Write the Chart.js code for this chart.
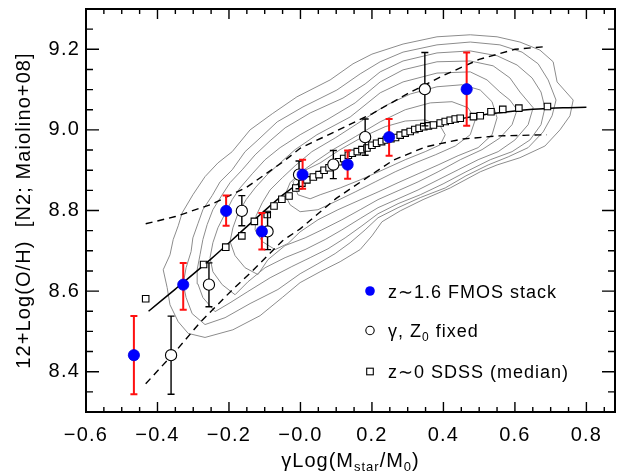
<!DOCTYPE html>
<html>
<head>
<meta charset="utf-8">
<script src="https://cdn.jsdelivr.net/npm/chart.js@4.4.1/dist/chart.umd.min.js"></script>
<style>
  html, body { margin: 0; padding: 0; background: #fff; }
  #wrap { width: 623px; height: 472px; }
</style>
</head>
<body>
<div id="wrap"><canvas id="c" width="623" height="472"></canvas></div>
<script>
// ---- axis ticks ----
const xTicks = [-0.6, -0.4, -0.2, 0.0, 0.2, 0.4, 0.6, 0.8];
const xTickLabels = ['\u22120.6', '\u22120.4', '\u22120.2', '\u22120.0', '0.2', '0.4', '0.6', '0.8'];
const yTicks = [8.4, 8.6, 8.8, 9.0, 9.2];
const yTickLabels = ['8.4', '8.6', '8.8', '9.0', '9.2'];

// ---- z~1.6 FMOS stacks ----
const fmosX = [-0.466, -0.328, -0.208, -0.108, 0.006, 0.132, 0.248, 0.465];
const fmosY = [8.441, 8.616, 8.799, 8.748, 8.889, 8.914, 8.982, 9.101];
const fmosErrLo = [0.097, 0.062, 0.037, 0.045, 0.035, 0.035, 0.046, 0.091];
const fmosErrHi = [0.097, 0.054, 0.038, 0.046, 0.037, 0.035, 0.045, 0.091];

// ---- same stacks with gamma, Z0 fixed ----
const fixedX = [-0.362, -0.256, -0.164, -0.092, -0.004, 0.092, 0.181, 0.348];
const fixedY = [8.441, 8.616, 8.799, 8.748, 8.889, 8.914, 8.982, 9.101];
const fixedErrLo = [0.097, 0.055, 0.037, 0.045, 0.035, 0.035, 0.045, 0.091];
const fixedErrHi = [0.097, 0.054, 0.038, 0.047, 0.034, 0.035, 0.045, 0.091];

// ---- z~0 SDSS median relation ----
const sdssX = [-0.433, -0.271, -0.209, -0.164, -0.129, -0.093, -0.074, -0.052, -0.032, -0.013,
  0.004, 0.018, 0.036, 0.052, 0.066, 0.080, 0.094, 0.107, 0.121, 0.134,
  0.145, 0.159, 0.172, 0.186, 0.200, 0.213, 0.227, 0.240, 0.253, 0.266,
  0.279, 0.293, 0.307, 0.320, 0.332, 0.345, 0.358, 0.372, 0.391, 0.405,
  0.419, 0.433, 0.447, 0.484, 0.503, 0.533, 0.566, 0.611, 0.691];
const sdssY = [8.581, 8.666, 8.709, 8.737, 8.773, 8.790, 8.811, 8.828, 8.836, 8.856,
  8.868, 8.876, 8.883, 8.889, 8.900, 8.906, 8.913, 8.921, 8.929, 8.937,
  8.942, 8.946, 8.951, 8.955, 8.962, 8.967, 8.971, 8.975, 8.978, 8.981,
  8.987, 8.992, 8.996, 9.001, 9.004, 9.008, 9.010, 9.012, 9.017, 9.021,
  9.024, 9.027, 9.029, 9.033, 9.035, 9.045, 9.051, 9.054, 9.058];

// ---- fitted relation (solid) ----
const fitX = [-0.425, -0.35, -0.25, -0.15, -0.05, 0.0, 0.05, 0.10, 0.15, 0.20, 0.25,
  0.30, 0.35, 0.40, 0.45, 0.50, 0.55, 0.60, 0.65, 0.70, 0.75, 0.80];
const fitY = [8.550, 8.605, 8.680, 8.760, 8.838, 8.870, 8.895, 8.918, 8.938, 8.958, 8.976,
  8.993, 9.006, 9.018, 9.028, 9.036, 9.042, 9.047, 9.051, 9.054, 9.055, 9.056];

// ---- SDSS scatter envelope (dashed) ----
const upperX = [-0.433, -0.35, -0.25, -0.15, -0.05, 0.0, 0.10, 0.20, 0.30, 0.40, 0.50, 0.60, 0.689];
const upperY = [8.767, 8.785, 8.815, 8.858, 8.920, 8.955, 8.997, 9.040, 9.090, 9.135, 9.175, 9.200, 9.207];
const lowerX = [-0.433, -0.35, -0.28, -0.19, -0.14, -0.05, 0.0, 0.06, 0.10, 0.18, 0.26, 0.35, 0.45, 0.55, 0.689];
const lowerY = [8.370, 8.450, 8.523, 8.604, 8.645, 8.725, 8.755, 8.800, 8.830, 8.878, 8.925, 8.958, 8.977, 8.985, 8.988];

// ---- SDSS density contours, outermost first ----
const contourLevel1 = [[-0.314,8.495],[-0.342,8.524],[-0.365,8.566],[-0.373,8.609],[-0.384,8.653],[-0.365,8.690],
  [-0.356,8.728],[-0.342,8.762],[-0.331,8.794],[-0.301,8.839],[-0.267,8.884],[-0.231,8.918],[-0.191,8.946],
  [-0.141,9.000],[-0.079,9.040],[-0.010,9.082],[0.083,9.124],[0.147,9.164],[0.200,9.188],[0.287,9.213],
  [0.382,9.231],[0.475,9.236],[0.550,9.231],[0.614,9.218],[0.670,9.198],[0.707,9.169],[0.718,9.119],
  [0.763,9.074],[0.754,9.035],[0.726,9.000],[0.684,8.960],[0.614,8.931],[0.550,8.913],[0.503,8.896],
  [0.419,8.856],[0.343,8.827],[0.279,8.799],[0.228,8.772],[0.200,8.737],[0.167,8.703],[0.111,8.673],
  [0.055,8.648],[-0.001,8.621],[-0.051,8.584],[-0.113,8.539],[-0.189,8.504],[-0.267,8.485]];
const contourLevel2 = [[-0.267,8.517],[-0.303,8.544],[-0.320,8.584],[-0.328,8.618],[-0.320,8.658],[-0.306,8.698],
  [-0.301,8.732],[-0.287,8.767],[-0.273,8.802],[-0.247,8.837],[-0.225,8.871],[-0.191,8.901],[-0.155,8.946],
  [-0.119,8.975],[-0.065,9.020],[0.007,9.057],[0.102,9.099],[0.167,9.139],[0.223,9.169],[0.287,9.193],
  [0.382,9.211],[0.475,9.218],[0.558,9.211],[0.620,9.193],[0.665,9.164],[0.693,9.124],[0.715,9.074],
  [0.704,9.035],[0.679,8.995],[0.637,8.956],[0.581,8.933],[0.525,8.913],[0.463,8.886],[0.405,8.856],
  [0.335,8.832],[0.273,8.807],[0.217,8.782],[0.181,8.752],[0.139,8.720],[0.097,8.693],[0.049,8.668],
  [-0.001,8.643],[-0.063,8.604],[-0.141,8.569],[-0.211,8.534]];
const contourLevel3 = [[-0.239,8.549],[-0.273,8.584],[-0.287,8.618],[-0.289,8.653],[-0.281,8.690],[-0.273,8.728],
  [-0.261,8.765],[-0.245,8.802],[-0.219,8.839],[-0.197,8.869],[-0.163,8.901],[-0.127,8.938],[-0.085,8.973],
  [-0.043,9.005],[0.027,9.042],[0.119,9.079],[0.181,9.114],[0.223,9.144],[0.287,9.171],[0.382,9.191],
  [0.475,9.196],[0.550,9.184],[0.606,9.161],[0.648,9.129],[0.673,9.094],[0.684,9.055],[0.673,9.013],
  [0.642,8.975],[0.592,8.946],[0.531,8.926],[0.463,8.896],[0.399,8.866],[0.335,8.839],[0.273,8.817],
  [0.217,8.792],[0.172,8.762],[0.125,8.732],[0.077,8.705],[0.027,8.683],[-0.024,8.661],[-0.085,8.633],
  [-0.147,8.599],[-0.197,8.571]];
const contourLevel4 = [[-0.183,8.591],[-0.219,8.616],[-0.245,8.648],[-0.253,8.683],[-0.245,8.720],[-0.231,8.757],
  [-0.211,8.792],[-0.191,8.827],[-0.169,8.856],[-0.135,8.891],[-0.099,8.926],[-0.057,8.956],[-0.001,8.988],
  [0.074,9.025],[0.153,9.067],[0.223,9.119],[0.287,9.149],[0.382,9.169],[0.475,9.171],[0.539,9.159],
  [0.586,9.129],[0.614,9.094],[0.651,9.055],[0.637,9.013],[0.600,8.975],[0.553,8.946],[0.497,8.926],
  [0.441,8.901],[0.385,8.876],[0.329,8.851],[0.273,8.829],[0.217,8.807],[0.167,8.780],[0.116,8.752],
  [0.069,8.728],[0.013,8.703],[-0.043,8.683],[-0.099,8.658],[-0.147,8.623]];
const contourLevel5 = [[-0.119,8.641],[-0.155,8.658],[-0.183,8.688],[-0.197,8.723],[-0.189,8.757],[-0.175,8.792],
  [-0.152,8.827],[-0.127,8.856],[-0.093,8.889],[-0.057,8.918],[-0.015,8.951],[0.046,8.988],[0.139,9.032],
  [0.223,9.092],[0.287,9.119],[0.382,9.141],[0.475,9.144],[0.522,9.124],[0.558,9.094],[0.586,9.074],
  [0.606,9.050],[0.592,9.013],[0.558,8.980],[0.508,8.951],[0.447,8.926],[0.385,8.896],[0.329,8.871],
  [0.273,8.849],[0.217,8.827],[0.167,8.802],[0.116,8.777],[0.060,8.752],[0.013,8.732],[-0.043,8.713],
  [-0.091,8.678]];
const contourLevel6 = [[-0.071,8.703],[-0.107,8.723],[-0.127,8.752],[-0.124,8.787],[-0.107,8.819],[-0.085,8.851],
  [-0.051,8.881],[-0.015,8.911],[0.032,8.946],[0.097,8.980],[0.167,9.020],[0.237,9.060],[0.307,9.089],
  [0.382,9.107],[0.452,9.112],[0.503,9.099],[0.536,9.070],[0.550,9.030],[0.536,8.988],[0.497,8.956],
  [0.441,8.936],[0.385,8.913],[0.329,8.891],[0.273,8.869],[0.217,8.846],[0.161,8.824],[0.105,8.802],
  [0.049,8.777],[-0.001,8.747],[-0.035,8.718]];
const contourLevel7 = [[-0.001,8.797],[-0.029,8.814],[-0.043,8.839],[-0.029,8.869],[-0.001,8.894],[0.041,8.921],
  [0.091,8.951],[0.153,8.983],[0.223,9.020],[0.293,9.050],[0.363,9.067],[0.424,9.070],[0.469,9.055],
  [0.489,9.025],[0.475,8.988],[0.433,8.960],[0.377,8.938],[0.321,8.918],[0.265,8.896],[0.209,8.871],
  [0.153,8.846],[0.097,8.822],[0.049,8.802]];
const contourLevel8 = [[-0.007,8.839],[-0.021,8.871],[0.004,8.896],[0.055,8.918],[0.111,8.951],[0.175,8.983],
  [0.237,9.008],[0.293,9.022],[0.349,9.025],[0.391,9.010],[0.405,8.988],[0.391,8.963],[0.349,8.946],
  [0.293,8.926],[0.231,8.901],[0.167,8.876],[0.111,8.856],[0.055,8.839],[0.027,8.829]];

const contours = [contourLevel1, contourLevel2, contourLevel3, contourLevel4,
                  contourLevel5, contourLevel6, contourLevel7, contourLevel8];

const FONT = '"Liberation Sans", Arial, Helvetica, sans-serif';
const toPts = (xs, ys) => xs.map((x, i) => ({ x: x, y: ys[i] }));
const closedLoop = arr => arr.concat([arr[0]]).map(p => ({ x: p[0], y: p[1] }));

const datasets = [];
contours.forEach((c, i) => datasets.push({
  label: 'contour ' + (i + 1), data: closedLoop(c), showLine: true,
  borderColor: '#8c8c8c', borderWidth: 1, pointRadius: 0, tension: 0, fill: false, order: 20
}));
datasets.push({ label: 'upper', data: toPts(upperX, upperY), showLine: true, borderColor: '#000',
  borderWidth: 1.4, borderDash: [7, 5], pointRadius: 0, tension: 0, order: 15 });
datasets.push({ label: 'lower', data: toPts(lowerX, lowerY), showLine: true, borderColor: '#000',
  borderWidth: 1.4, borderDash: [7, 5], pointRadius: 0, tension: 0, order: 15 });
datasets.push({ label: 'fit', data: toPts(fitX, fitY), showLine: true, borderColor: '#000',
  borderWidth: 1.5, pointRadius: 0, tension: 0.3, order: 14 });
datasets.push({ label: 'z~0 SDSS (median)', data: toPts(sdssX, sdssY), showLine: false,
  pointStyle: 'rect', pointRadius: 4.6, pointBackgroundColor: '#fff', pointBorderColor: '#000',
  pointBorderWidth: 1.1, order: 12 });
datasets.push({ label: 'gamma, Z0 fixed', data: toPts(fixedX, fixedY), showLine: false,
  pointStyle: 'circle', pointRadius: 5.6, pointBackgroundColor: '#fff', pointBorderColor: '#000',
  pointBorderWidth: 1.1, order: 11,
  errLo: fixedErrLo, errHi: fixedErrHi, errColor: '#000', errWidth: 1.4 });
datasets.push({ label: 'z~1.6 FMOS stack', data: toPts(fmosX, fmosY), showLine: false,
  pointStyle: 'circle', pointRadius: 5.6, pointBackgroundColor: '#0000ff', pointBorderColor: '#0000e0',
  pointBorderWidth: 0.8, order: 10,
  errLo: fmosErrLo, errHi: fmosErrHi, errColor: '#ff1010', errWidth: 2 });

// vertical error bars with caps, drawn just under their markers
const errorBars = {
  id: 'errorBars',
  beforeDatasetDraw(chart, args) {
    const ds = chart.data.datasets[args.index];
    if (!ds.errLo) return;
    const { ctx } = chart;
    const xs = chart.scales.x, ys = chart.scales.y;
    ctx.save();
    ctx.strokeStyle = ds.errColor;
    ctx.lineWidth = ds.errWidth;
    ds.data.forEach((p, i) => {
      const px = xs.getPixelForValue(p.x);
      const top = ys.getPixelForValue(p.y + ds.errHi[i]);
      const bot = ys.getPixelForValue(p.y - ds.errLo[i]);
      ctx.beginPath();
      ctx.moveTo(px, top); ctx.lineTo(px, bot);
      ctx.moveTo(px - 3.5, top); ctx.lineTo(px + 3.5, top);
      ctx.moveTo(px - 3.5, bot); ctx.lineTo(px + 3.5, bot);
      ctx.stroke();
    });
    ctx.restore();
  }
};

// text made of runs with different sizes / vertical offsets (subscripts)
function runsWidth(ctx, runs) {
  let w = 0;
  runs.forEach(r => { ctx.font = r[1] + 'px ' + FONT; r.w = ctx.measureText(r[0]).width; w += r.w; });
  return w;
}
function drawRuns(ctx, runs, x, baseline) {
  runsWidth(ctx, runs);
  runs.forEach(r => {
    ctx.font = r[1] + 'px ' + FONT;
    ctx.fillText(r[0], x, baseline + r[2]);
    x += r.w;
  });
}

// boxed frame with inward ticks on all four sides, axis titles and legend
const decorations = {
  id: 'decorations',
  beforeDraw(chart) {
    chart.ctx.letterSpacing = '1.2px';
  },
  afterDraw(chart) {
    const { ctx, chartArea: a } = chart;
    const xs = chart.scales.x, ys = chart.scales.y;
    ctx.save();
    ctx.strokeStyle = '#000';
    ctx.lineWidth = 1.4;
    ctx.beginPath();
    for (let k = -12; k <= 17; k++) {
      const px = xs.getPixelForValue(k * 0.05);
      if (px < a.left - 0.5 || px > a.right + 0.5) continue;
      const len = (k % 4 === 0) ? 10 : 5;
      ctx.moveTo(px, a.bottom); ctx.lineTo(px, a.bottom - len);
      ctx.moveTo(px, a.top); ctx.lineTo(px, a.top + len);
    }
    for (let k = 166; k <= 186; k++) {
      const py = ys.getPixelForValue(k * 0.05);
      if (py < a.top - 0.5 || py > a.bottom + 0.5) continue;
      const len = (k % 4 === 0) ? 13 : 7;
      ctx.moveTo(a.left, py); ctx.lineTo(a.left + len, py);
      ctx.moveTo(a.right, py); ctx.lineTo(a.right - len, py);
    }
    ctx.stroke();
    ctx.lineWidth = 2;
    ctx.strokeRect(a.left, a.top, a.right - a.left, a.bottom - a.top);

    ctx.fillStyle = '#000';
    ctx.textAlign = 'left';
    ctx.textBaseline = 'alphabetic';

    // x-axis title
    ctx.letterSpacing = '1px';
    const xTitle = [['\u03b3Log(M', 20, 0], ['star', 13, 4], ['/M', 20, 0], ['0', 13, 4], [')', 20, 0]];
    const xw = runsWidth(ctx, xTitle);
    drawRuns(ctx, xTitle, (a.left + a.right) / 2 - xw / 2, 467);

    // y-axis title
    ctx.save();
    ctx.translate(24, (a.top + a.bottom) / 2);
    ctx.rotate(-Math.PI / 2);
    ctx.font = '20px ' + FONT;
    ctx.letterSpacing = '1.1px';
    ctx.textAlign = 'center';
    ctx.textBaseline = 'middle';
    ctx.fillText('12+Log(O/H)  [N2; Maiolino+08]', 0, 0);
    ctx.restore();

    // legend
    ctx.letterSpacing = '1px';
    const lx = 370, tx = 388;
    ctx.beginPath(); ctx.arc(lx, 291, 4.8, 0, Math.PI * 2);
    ctx.fillStyle = '#0000ff'; ctx.fill();
    ctx.fillStyle = '#000';
    drawRuns(ctx, [['z\u223c1.6 FMOS stack', 18, 0]], tx, 297.5);

    ctx.beginPath(); ctx.arc(lx, 330.5, 4.2, 0, Math.PI * 2);
    ctx.fillStyle = '#fff'; ctx.fill();
    ctx.lineWidth = 1.1; ctx.strokeStyle = '#000'; ctx.stroke();
    ctx.fillStyle = '#000';
    drawRuns(ctx, [['\u03b3, Z', 18, 0], ['0', 12, 4], [' fixed', 18, 0]], tx, 336.5);

    ctx.fillStyle = '#fff';
    ctx.fillRect(lx - 3.3, 371.5 - 3.3, 6.6, 6.6);
    ctx.strokeRect(lx - 3.3, 371.5 - 3.3, 6.6, 6.6);
    ctx.fillStyle = '#000';
    drawRuns(ctx, [['z\u223c0 SDSS (median)', 18, 0]], tx, 377.5);
    ctx.restore();
  }
};

// plot box is fixed: no extra room reserved for end labels
const noEndPadding = s => { s.paddingTop = 0; s.paddingBottom = 0; s.paddingLeft = 0; s.paddingRight = 0; };

new Chart(document.getElementById('c'), {
  type: 'scatter',
  data: { datasets: datasets },
  options: {
    responsive: false,
    animation: false,
    devicePixelRatio: 1,
    layout: { padding: { left: 0, right: 8, top: 9, bottom: 0 } },
    plugins: { legend: { display: false }, tooltip: { enabled: false } },
    elements: { line: { borderCapStyle: 'butt' } },
    scales: {
      x: {
        type: 'linear', min: -0.6, max: 0.88,
        grid: { display: false, drawTicks: false },
        border: { display: false },
        afterBuildTicks: s => { s.ticks = xTicks.map(v => ({ value: v })); },
        afterFit: s => { s.height = 60; noEndPadding(s); },
        ticks: {
          padding: 11, color: '#000', maxRotation: 0, autoSkip: false,
          font: { family: FONT, size: 20 },
          callback: (v, i) => xTickLabels[i]
        }
      },
      y: {
        type: 'linear', min: 8.3, max: 9.3,
        grid: { display: false, drawTicks: false },
        border: { display: false },
        afterBuildTicks: s => { s.ticks = yTicks.map(v => ({ value: v })); },
        afterFit: s => { s.width = 86; noEndPadding(s); },
        ticks: {
          padding: 6, color: '#000', autoSkip: false,
          font: { family: FONT, size: 20 },
          callback: (v, i) => yTickLabels[i]
        }
      }
    }
  },
  plugins: [errorBars, decorations]
});
</script>
</body>
</html>
